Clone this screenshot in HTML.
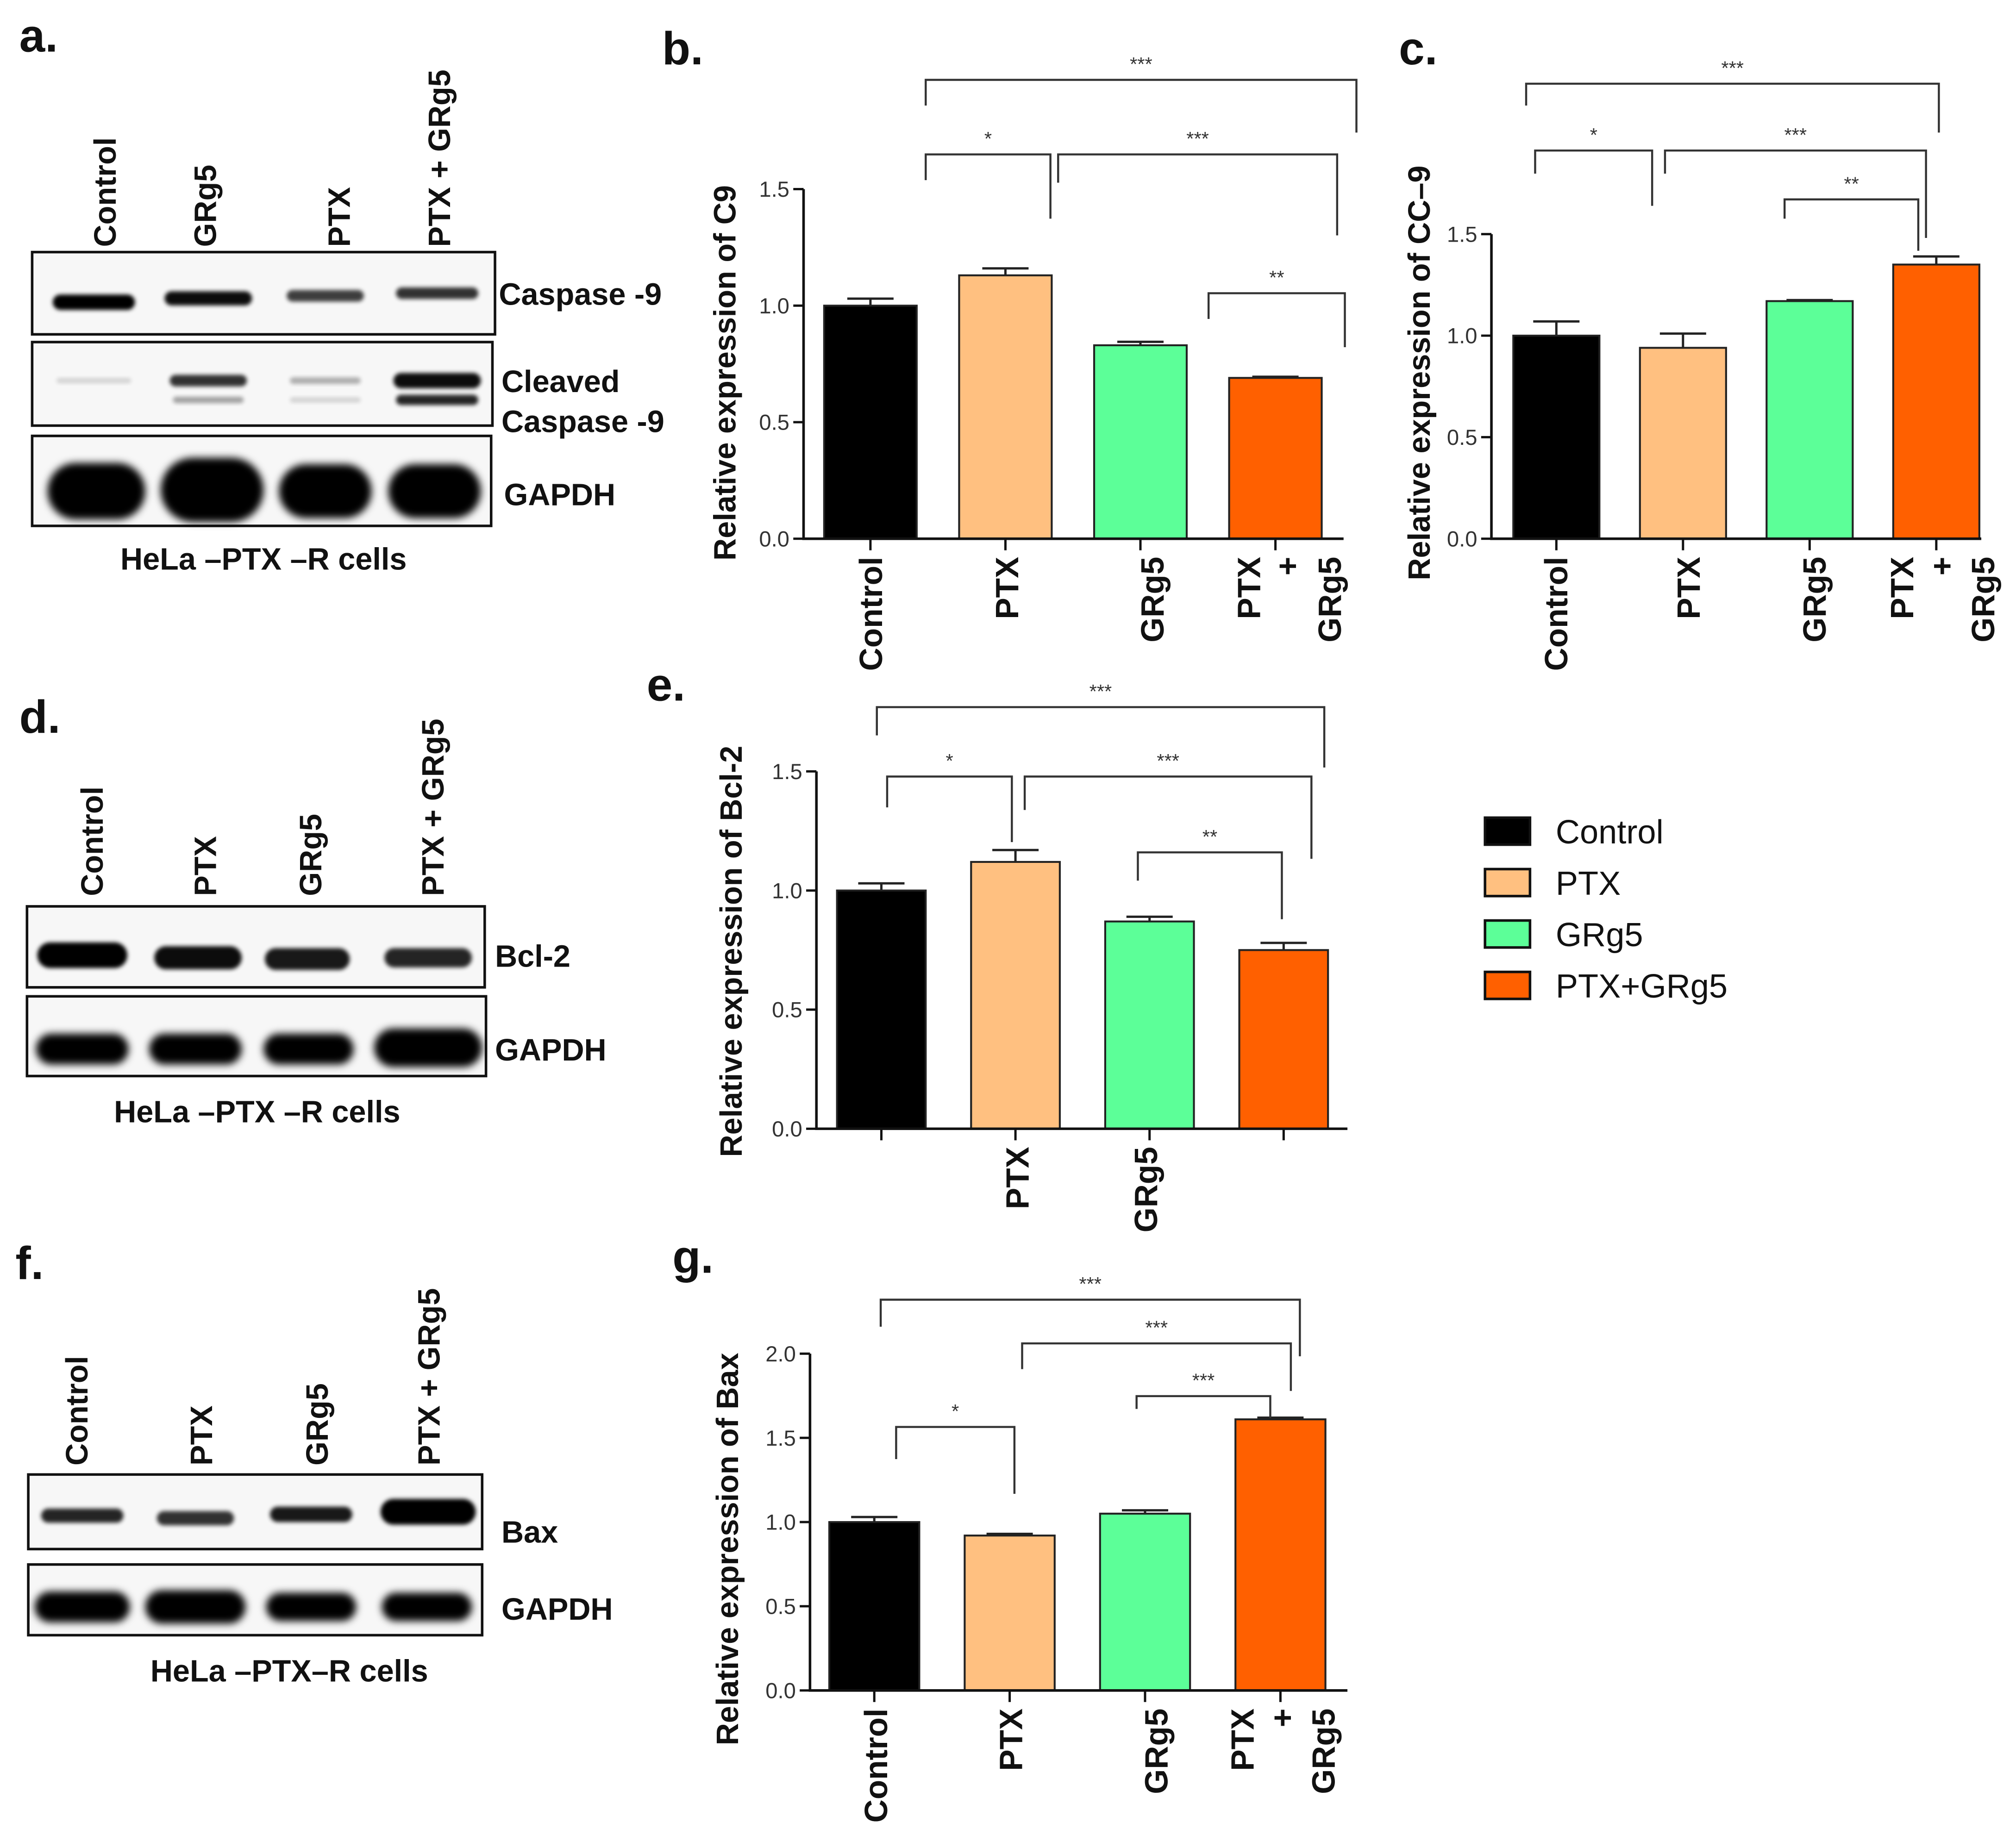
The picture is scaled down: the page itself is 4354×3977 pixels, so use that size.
<!DOCTYPE html>
<html><head><meta charset="utf-8">
<style>
html,body{margin:0;padding:0;background:#fff;}
svg{display:block;}
text{font-family:"Liberation Sans",sans-serif;}
</style></head>
<body>
<svg id="fig" xmlns="http://www.w3.org/2000/svg" width="4354" height="3977" viewBox="0 0 1568 1432">
<defs>
<filter id="blur" x="-20%" y="-50%" width="140%" height="200%"><feGaussianBlur stdDeviation="3"/></filter>
<filter id="blur2" x="-20%" y="-50%" width="140%" height="200%"><feGaussianBlur stdDeviation="1.6"/></filter>
</defs>
<g id="blots"></g>
<g id="charts"></g>
<g id="legend"></g>
</svg>
<script>
const NS='http://www.w3.org/2000/svg';
function mk(parent,tag,attrs,txt){const e=document.createElementNS(NS,tag);for(const k in attrs)e.setAttribute(k,attrs[k]);if(txt!==undefined)e.textContent=txt;parent.appendChild(e);return e;}

// ---------- data ----------
const categories=['Control','PTX','GRg5','PTX+GRg5'];
const colors=['#000000','#FFC080','#5CFF98','#FF6000'];
const c9Values=[1.0,1.13,0.83,0.69];
const c9Errors=[0.03,0.03,0.015,0.005];
const cc9Values=[1.0,0.94,1.17,1.35];
const cc9Errors=[0.07,0.07,0.005,0.04];
const bcl2Values=[1.0,1.12,0.87,0.75];
const bcl2Errors=[0.03,0.05,0.02,0.03];
const baxValues=[1.0,0.92,1.05,1.61];
const baxErrors=[0.03,0.01,0.02,0.01];
const ticks15=['0.0','0.5','1.0','1.5'];
const ticks20=['0.0','0.5','1.0','1.5','2.0'];

const charts=document.getElementById('charts');

function chart(cfg){
  const g=mk(charts,'g',{});
  
  
  const y=v=>cfg.y0-(v/cfg.ymax)*(cfg.y0-cfg.ytop);
  const barX=i=>cfg.x0+i*cfg.step;
  const cx=i=>barX(i)+cfg.bw/2;
  // bars
  cfg.values.forEach((v,i)=>{
    const b=mk(g,'rect',{x:barX(i),y:y(v),width:cfg.bw,height:cfg.y0-y(v),fill:colors[i],stroke:'#222','stroke-width':1.5});
    
    
    const e=cfg.errors[i];
    const eb=mk(g,'path',{d:`M${cx(i)} ${y(v)} V${y(v+e)} M${cx(i)-18} ${y(v+e)} H${cx(i)+18}`,stroke:'#222','stroke-width':1.8,fill:'none'});
    
    
  });
  // axes
  const ax=mk(g,'path',{d:`M${cfg.ax} ${y(cfg.ymax)} V${cfg.y0} H${cfg.axEnd}`,stroke:'#111','stroke-width':2,fill:'none'});
  
  
  cfg.ticks.forEach(t=>{
    const ty=y(parseFloat(t));
    mk(g,'line',{x1:cfg.ax-8,x2:cfg.ax,y1:ty,y2:ty,stroke:'#111','stroke-width':1.8});
    const tl=mk(g,'text',{x:cfg.ax-11,y:ty+6,'text-anchor':'end','font-size':17,fill:'#333'},t);
    
    
  });
  categories.forEach((c,i)=>{mk(g,'line',{x1:cx(i),x2:cx(i),y1:cfg.y0,y2:cfg.y0+9,stroke:'#111','stroke-width':1.8});});
  // y title
  const yt=mk(g,'text',{transform:`translate(${cfg.ylx},${cfg.yly}) rotate(-90)`,'text-anchor':'middle','font-size':24,'font-weight':'bold',fill:'#111'},cfg.ytitle);
  
  
  // x labels
  cfg.xlabels.forEach(l=>{
    const t=mk(g,'text',{transform:`translate(${l[0]},${cfg.y0+14}) rotate(-90)`,'text-anchor':'end','font-size':25,'font-weight':'bold',fill:'#111'},l[1]);
    
    
  });
  // brackets
  cfg.brackets.forEach(b=>{
    const [x1,x2,yb,l1,l2,s]=b;
    const p=mk(g,'path',{d:`M${x1} ${l1} V${yb} H${x2} V${l2}`,stroke:'#333','stroke-width':1.6,fill:'none'});
    
    
    const st=mk(g,'text',{x:(x1+x2)/2,y:yb-7,'text-anchor':'middle','font-size':15,fill:'#333'},s);
    
    
  });
  // panel letter
  const pl=mk(g,'text',{x:cfg.letter[0],y:cfg.letter[1],'font-size':36,'font-weight':'bold',fill:'#111'},cfg.letter[2]);
  
  
}

chart({name:'chart-b-c9',values:c9Values,errors:c9Errors,ticks:ticks15,ymax:1.5,y0:419,ytop:147,x0:641,step:105,bw:72,ax:625,axEnd:1045,
  ylx:572,yly:290,ytitle:'Relative expression of C9',letter:[515,50,'b.'],
  xlabels:[[686,'Control'],[792,'PTX'],[905,'GRg5'],[980,'PTX'],[1010,'+'],[1043,'GRg5']],
  brackets:[[720,1055,62,82,103,'***'],[720,817,120,140,170,'*'],[823,1040,120,142,183,'***'],[940,1046,228,248,270,'**']]});

chart({name:'chart-c-cc9',values:cc9Values,errors:cc9Errors,ticks:ticks15,ymax:1.5,y0:419,ytop:182,x0:1177,step:98.5,bw:67,ax:1160,axEnd:1541,
  ylx:1112,yly:290,ytitle:'Relative expression of CC\u20139',letter:[1088,50,'c.'],
  xlabels:[[1219,'Control'],[1322,'PTX'],[1420,'GRg5'],[1488,'PTX'],[1519,'+'],[1551,'GRg5']],
  brackets:[[1187,1508,65,82,103,'***'],[1194,1285,117,135,160,'*'],[1295,1498,117,135,185,'***'],[1388,1492,155,170,195,'**']]});

chart({name:'chart-e-bcl2',values:bcl2Values,errors:bcl2Errors,ticks:ticks15,ymax:1.5,y0:878,ytop:600,x0:651,step:104.3,bw:69,ax:635,axEnd:1048,
  ylx:577,yly:740,ytitle:'Relative expression of Bcl-2',letter:[503,545,'e.'],
  xlabels:[[800,'PTX'],[900,'GRg5']],
  brackets:[[682,1030,550,572,597,'***'],[690,787,604,628,655,'*'],[797,1020,604,630,668,'***'],[885,997,663,685,715,'**']]});

chart({name:'chart-g-bax',values:baxValues,errors:baxErrors,ticks:ticks20,ymax:2.0,y0:1315,ytop:1053,x0:645,step:105.3,bw:70,ax:630,axEnd:1048,
  ylx:574,yly:1205,ytitle:'Relative expression of Bax',letter:[523,990,'g.'],
  xlabels:[[690,'Control'],[795,'PTX'],[908,'GRg5'],[975,'PTX'],[1006,'+'],[1038,'GRg5']],
  brackets:[[685,1011,1011,1032,1055,'***'],[795,1004,1045,1065,1082,'***'],[697,789,1110,1135,1162,'*'],[884,988,1086,1096,1103,'***']]});

// ---------- legend ----------
const legend=document.getElementById('legend');
categories.forEach((c,i)=>{
  const g=mk(legend,'g',{});
  
  
  const yy=636+i*40;
  mk(g,'rect',{x:1155,y:yy,width:35,height:21,fill:colors[i],stroke:'#111','stroke-width':2});
  mk(g,'text',{x:1210,y:yy+20,'font-size':26,fill:'#111'},c==='PTX+GRg5'?'PTX+GRg5':c);
});

// ---------- blots ----------
const blots=document.getElementById('blots');
function panelText(x,y,s,size,anchor,name,weight){
  const t=mk(blots,'text',{x:x,y:y,'font-size':size,'font-weight':weight||'bold','text-anchor':anchor||'start',fill:'#111'},s);
  
  
}
function colLabels(xs,labels,bottom){
  labels.forEach((l,i)=>{
    const t=mk(blots,'text',{transform:`translate(${xs[i]},${bottom}) rotate(-90)`,'font-size':24,'font-weight':'bold',fill:'#111'},l);
    
    
  });
}
function box(x1,y1,x2,y2,bands,name){
  const g=mk(blots,'g',{});
  
  
  mk(g,'rect',{x:x1,y:y1,width:x2-x1,height:y2-y1,fill:'#f7f7f7',stroke:'#111','stroke-width':2});
  bands.forEach(b=>{
    const [cx,cy,w,h,op]=b;
    mk(g,'rect',{x:cx-w/2,y:cy-h/2,width:w,height:h,rx:h/2,fill:'#000',opacity:op,filter:h>20?'url(#blur)':'url(#blur2)'});
  });
}
// panel a
panelText(15,40,'a.',36,'start','panel-label');
colLabels([90,168,272,350],['Control','GRg5','PTX','PTX + GRg5'],192);
box(25,196,385,260,[[73,235,64,12,1],[162,232,68,11,0.95],[253,230,60,9,0.75],[340,228,64,9,0.8]],'blot-caspase9');
box(25,266,383,331,[[73,296,58,4,0.15],[162,296,60,9,0.8],[253,296,55,5,0.3],[340,296,68,12,0.95],[162,311,55,5,0.35],[253,311,55,4,0.15],[340,311,64,8,0.85]],'blot-cleaved-caspase9');
box(25,339,382,409,[[75,382,76,44,1],[165,381,80,50,1],[253,382,72,42,1],[338,382,72,42,1]],'blot-gapdh-a');
panelText(388,237,'Caspase -9',24,'start','band-label');
panelText(390,305,'Cleaved',24,'start','band-label');
panelText(390,336,'Caspase -9',24,'start','band-label');
panelText(392,393,'GAPDH',24,'start','band-label');
panelText(205,443,'HeLa \u2013PTX \u2013R cells',24,'middle','cell-line-label');
// panel d
panelText(15,570,'d.',36,'start','panel-label');
colLabels([80,168,250,345],['Control','PTX','GRg5','PTX + GRg5'],697);
box(21,705,377,768,[[64,743,70,20,1],[154,745,68,18,0.95],[239,746,66,17,0.9],[333,745,68,15,0.85]],'blot-bcl2');
box(21,775,378,837,[[64,816,72,24,1],[152,816,72,24,1],[240,816,70,24,1],[333,815,84,30,1]],'blot-gapdh-d');
panelText(385,752,'Bcl-2',24,'start','band-label');
panelText(385,825,'GAPDH',24,'start','band-label');
panelText(200,873,'HeLa \u2013PTX \u2013R cells',24,'middle','cell-line-label');
// panel f
panelText(12,995,'f.',36,'start','panel-label');
colLabels([68,165,255,342],['Control','PTX','GRg5','PTX + GRg5'],1140);
box(22,1147,375,1205,[[64,1179,64,11,0.85],[152,1181,60,11,0.8],[242,1178,64,12,0.9],[333,1176,74,20,1]],'blot-bax');
box(22,1217,375,1272,[[64,1250,74,24,1],[152,1250,78,26,1],[242,1250,70,22,1],[332,1250,70,22,1]],'blot-gapdh-f');
panelText(390,1200,'Bax',24,'start','band-label');
panelText(390,1260,'GAPDH',24,'start','band-label');
panelText(225,1308,'HeLa \u2013PTX\u2013R cells',24,'middle','cell-line-label');
</script>
</body></html>
